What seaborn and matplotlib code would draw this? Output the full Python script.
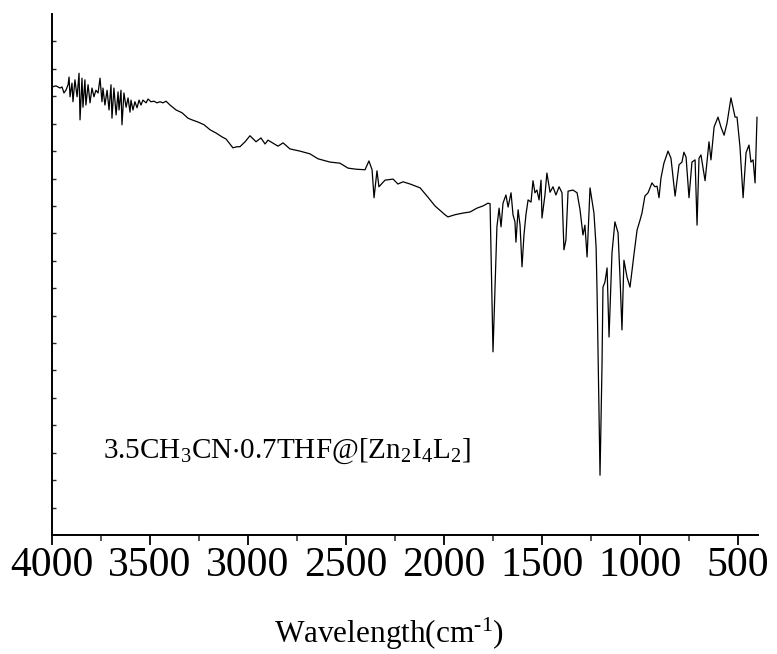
import numpy as np
import pandas as pd
import matplotlib
matplotlib.use("Agg")
import matplotlib.pyplot as plt
import seaborn as sns

# ---- data ----
wavenumber = [
    4000, 3980, 3959, 3949, 3939, 3929, 3918, 3913, 3908, 3898, 3893, 3883, 3872, 3862, 3857,
    3847, 3842, 3832, 3827, 3816, 3806, 3796, 3786, 3776, 3765, 3755, 3745, 3740, 3730, 3719,
    3709, 3699, 3694, 3684, 3673, 3663, 3658, 3648, 3643, 3633, 3622, 3612, 3602, 3597, 3587,
    3577, 3566, 3556, 3546, 3536, 3520, 3510, 3495, 3480, 3464, 3449, 3434, 3418, 3398, 3367,
    3337, 3306, 3286, 3255, 3224, 3194, 3163, 3133, 3112, 3092, 3077, 3056, 3041, 3015, 2990,
    2959, 2934, 2913, 2898, 2847, 2821, 2786, 2735, 2684, 2643, 2582, 2531, 2490, 2449, 2403,
    2383, 2367, 2357, 2342, 2332, 2301, 2260, 2235, 2209, 2173, 2122, 2082, 2046, 1995, 1980,
    1944, 1903, 1867, 1832, 1801, 1776, 1765, 1750, 1730, 1719, 1709, 1699, 1684, 1673, 1658,
    1648, 1638, 1633, 1622, 1612, 1602, 1592, 1582, 1571, 1556, 1546, 1536, 1526, 1515, 1505,
    1500, 1485, 1475, 1459, 1444, 1429, 1413, 1398, 1388, 1378, 1367, 1342, 1321, 1306, 1291,
    1281, 1270, 1255, 1235, 1224, 1219, 1204, 1194, 1189, 1179, 1168, 1158, 1143, 1128, 1112,
    1102, 1092, 1082, 1066, 1051, 1031, 1015, 1000, 990, 975, 959, 939, 924, 913, 903,
    893, 878, 857, 842, 821, 801, 786, 776, 765, 750, 735, 719, 709, 699, 689,
    668, 648, 638, 622, 602, 587, 571, 556, 536, 515, 505, 490, 474, 459, 444,
    434, 423, 413, 403,
]
transmittance = [
    81.7, 81.9, 81.5, 81.7, 80.6, 81.1, 82.1, 83.5, 79.9, 82.4, 79.0, 83.0, 79.9, 84.2, 75.7,
    83.3, 78.0, 83.0, 78.4, 82.1, 78.8, 81.5, 79.9, 81.1, 80.6, 83.3, 79.0, 81.5, 78.4, 81.1,
    77.5, 82.1, 76.0, 81.5, 76.6, 80.8, 77.5, 81.1, 74.8, 80.6, 78.0, 79.7, 77.1, 79.3, 77.5,
    79.0, 77.9, 79.3, 78.4, 79.3, 78.8, 79.5, 79.0, 79.1, 78.8, 79.0, 78.8, 79.1, 78.4, 77.5,
    77.0, 76.0, 75.7, 75.3, 74.8, 73.9, 73.3, 72.6, 72.2, 71.3, 70.6, 70.8, 70.8, 71.7, 72.8,
    71.7, 72.4, 71.3, 72.0, 70.9, 71.5, 70.4, 70.0, 69.5, 68.6, 68.0, 67.8, 66.9, 66.7, 66.6,
    68.2, 66.6, 61.5, 66.4, 63.5, 64.7, 64.9, 64.0, 64.4, 64.0, 63.3, 61.6, 60.0, 58.4, 58.0,
    58.4, 58.7, 58.9, 59.6, 60.0, 60.5, 60.4, 33.4, 56.2, 59.6, 56.2, 60.5, 62.0, 59.8, 62.4,
    58.4, 57.1, 53.4, 59.3, 56.5, 48.9, 54.7, 58.4, 61.1, 60.7, 64.6, 62.4, 62.9, 61.1, 64.7,
    57.8, 62.0, 66.0, 62.5, 63.5, 62.0, 63.5, 62.4, 52.0, 53.8, 62.7, 62.9, 62.4, 59.3, 54.7,
    56.5, 50.7, 63.3, 58.7, 52.5, 44.1, 10.9, 30.6, 45.2, 46.1, 48.7, 36.1, 51.4, 57.1, 55.1,
    47.0, 37.4, 50.1, 47.0, 45.2, 51.1, 55.6, 57.4, 58.7, 61.8, 62.4, 64.2, 63.5, 63.6, 61.5,
    65.1, 67.8, 70.0, 68.7, 61.8, 67.5, 68.0, 69.8, 68.9, 61.5, 68.0, 68.4, 56.5, 68.7, 69.3,
    64.6, 71.7, 68.4, 74.4, 76.2, 74.4, 72.9, 75.1, 79.7, 76.2, 76.2, 70.8, 61.5, 69.7, 71.1,
    68.0, 68.4, 64.2, 76.2,
]
x_major_ticks = [4000, 3500, 3000, 2500, 2000, 1500, 1000, 500]
x_minor_ticks = [3750, 3250, 2750, 2250, 1750, 1250, 750]
y_ticks = [5, 10, 15, 20, 25, 30, 35, 40, 45, 50, 55, 60, 65, 70, 75, 80, 85, 90]
sample_label = r"3.5CH$_\mathregular{3}$CN$\mathregular{\cdot}$0.7THF@[Zn$_\mathregular{2}$I$_\mathregular{4}$L$_\mathregular{2}$]"
x_label = r"Wavelength(cm$^{\text{-1}}$)"

df = pd.DataFrame({"wn": wavenumber, "T": transmittance})

sns.set_theme(style="ticks")
plt.rcParams["font.family"] = ["Liberation Serif", "DejaVu Serif"]
plt.rcParams["mathtext.fontset"] = "custom"
plt.rcParams["mathtext.rm"] = "Liberation Serif"
plt.rcParams["mathtext.it"] = "Liberation Serif:italic"
plt.rcParams["mathtext.bf"] = "Liberation Serif:bold"

fig = plt.figure(figsize=(7.77, 6.54), dpi=100)
ax = fig.add_axes([52 / 777, (654 - 535) / 654, 706 / 777, 521 / 654])

sns.lineplot(data=df, x="wn", y="T", ax=ax, color="black", linewidth=0.9,
             sort=False, estimator=None)

ax.set_xlim(4000, 398)
ax.set_ylim(0, 95)
ax.set_xticks(x_major_ticks)
ax.set_xticks(x_minor_ticks, minor=True)
ax.set_xticklabels([str(v) for v in x_major_ticks])
ax.set_yticks(y_ticks)
ax.set_yticklabels([])

for s in ["top", "right"]:
    ax.spines[s].set_visible(False)
for s in ["left", "bottom"]:
    ax.spines[s].set_linewidth(1.4)
    ax.spines[s].set_color("black")

ax.tick_params(axis="x", which="major", direction="out", length=7, width=1.3,
               labelsize=30, pad=1, colors="black")
ax.tick_params(axis="x", which="minor", direction="out", length=4, width=1.1)
ax.tick_params(axis="y", which="major", direction="in", length=3, width=1.0)
ax.set_xlabel("")
ax.set_ylabel("")

ax.text(3740, 14.0, sample_label, fontsize=21, ha="left", va="baseline", color="black")
fig.text(0.5, (654 - 643) / 654, x_label, fontsize=22.5, ha="center", va="baseline",
         color="black")

fig.savefig("out.png", dpi=100, facecolor="white")
